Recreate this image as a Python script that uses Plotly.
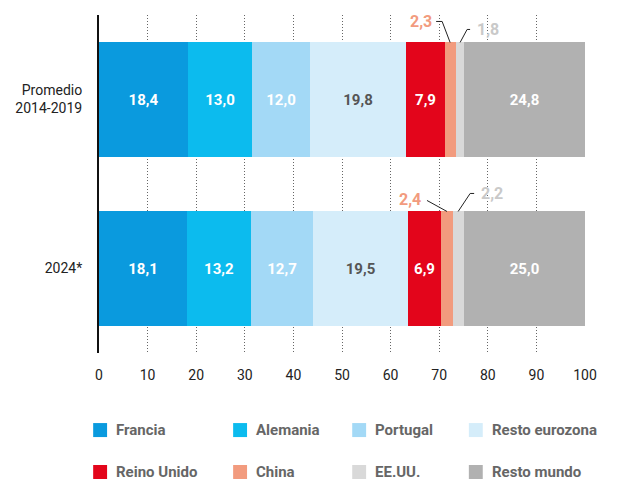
import plotly.graph_objects as go

categories = ["Promedio<br>2014-2019", "2024*"]
series = ["Francia", "Alemania", "Portugal", "Resto eurozona",
          "Reino Unido", "China", "EE.UU.", "Resto mundo"]
values = {
    "Francia": [18.4, 18.1],
    "Alemania": [13.0, 13.2],
    "Portugal": [12.0, 12.7],
    "Resto eurozona": [19.8, 19.5],
    "Reino Unido": [7.9, 6.9],
    "China": [2.3, 2.4],
    "EE.UU.": [1.8, 2.2],
    "Resto mundo": [24.8, 25.0],
}
x_ticks = [0, 10, 20, 30, 40, 50, 60, 70, 80, 90, 100]

colors = {
    "Francia": "#0a9ade",
    "Alemania": "#0cbbee",
    "Portugal": "#a3d9f6",
    "Resto eurozona": "#d5edfa",
    "Reino Unido": "#e3051b",
    "China": "#f29b7e",
    "EE.UU.": "#d9d9d9",
    "Resto mundo": "#b1b1b1",
}
text_colors = {"Resto eurozona": "#555555"}
outside = {"China", "EE.UU."}

fmt = lambda v: f"{v:.1f}".replace(".", ",")
bar_w = 0.675

fig = go.Figure()
for s in series:
    fig.add_trace(go.Bar(
        y=categories, x=values[s], orientation="h", name=s,
        width=bar_w,
        marker=dict(color=colors[s], line=dict(width=0)),
        text=None if s in outside else [fmt(v) for v in values[s]],
        textposition="inside", insidetextanchor="middle",
        textfont=dict(family="Roboto", size=15, color=text_colors.get(s, "white"), weight="bold"),
        showlegend=False, hoverinfo="skip",
    ))

# leader labels for the thin segments
def seg_center(name, i):
    start = sum(values[s][i] for s in series[:series.index(name)])
    return start + values[name][i] / 2

# (series, row, label dx, label dy, elbow path in px relative to tip)
leaders = [
    ("China", 0, -16, 21, "M0,0 L-8,21 L-14,21"),
    ("EE.UU.", 0, 15, 13, "M0,0 L7,13 L10,13"),
    ("China", 1, -24, 12, "M0,0 L-20,11"),
    ("EE.UU.", 1, 21, 18, "M0,0 L12,18 L16,18"),
]
label_colors = {"China": "#f29b7e", "EE.UU.": "#c9c9c9"}
shapes = []
annotations = []
for name, i, dx, dy, path in leaders:
    xc = seg_center(name, i)
    ytop = i - bar_w / 2
    shapes.append(dict(
        type="path", xref="x", yref="y", xsizemode="pixel", ysizemode="pixel",
        xanchor=xc, yanchor=ytop, path=path,
        line=dict(color="#222222", width=1),
    ))
    annotations.append(dict(
        x=xc, y=ytop, xref="x", yref="y", text=fmt(values[name][i]),
        showarrow=False, xshift=dx, yshift=dy,
        xanchor="right" if dx < 0 else "left", yanchor="middle",
        font=dict(family="Roboto", size=16, color=label_colors[name], weight="bold"),
    ))

# legend built from the series list
col_x = [-0.012, 0.276, 0.521, 0.761]
row_y = [-0.228, -0.352]
for k, s in enumerate(series):
    cx = col_x[k % 4]
    cy = row_y[k // 4]
    shapes.append(dict(
        type="rect", xref="paper", yref="paper",
        x0=cx, x1=cx + 14 / 489, y0=cy - 7 / 338, y1=cy + 7 / 338,
        fillcolor=colors[s], line=dict(width=0),
    ))
    annotations.append(dict(
        x=cx + 21 / 489, y=cy, xref="paper", yref="paper", text=s,
        showarrow=False, xanchor="left", yanchor="middle",
        font=dict(family="Roboto", size=15, color="#666666", weight="bold"),
    ))

# page body has an 8px margin, so the figure is sized to fit the window
fig.update_layout(
    barmode="stack",
    width=629, height=472,
    margin=dict(l=88, r=52, t=7, b=127),
    plot_bgcolor="white", paper_bgcolor="white",
    bargap=0,
    shapes=shapes,
    annotations=annotations,
    xaxis=dict(
        range=[0, 100], tickvals=x_ticks, ticks="",
        showgrid=True, gridcolor="#666666", gridwidth=1, griddash="1px,2px",
        zeroline=False, showline=False,
        tickfont=dict(family="Roboto", size=14, color="#222222"),
        ticklabelstandoff=12,
    ),
    yaxis=dict(
        autorange="reversed", showline=True, linecolor="#111111", linewidth=2,
        ticks="", ticklabelstandoff=12,
        tickfont=dict(family="Roboto", size=14, color="#222222"),
    ),
)

fig.write_html("out.html")
